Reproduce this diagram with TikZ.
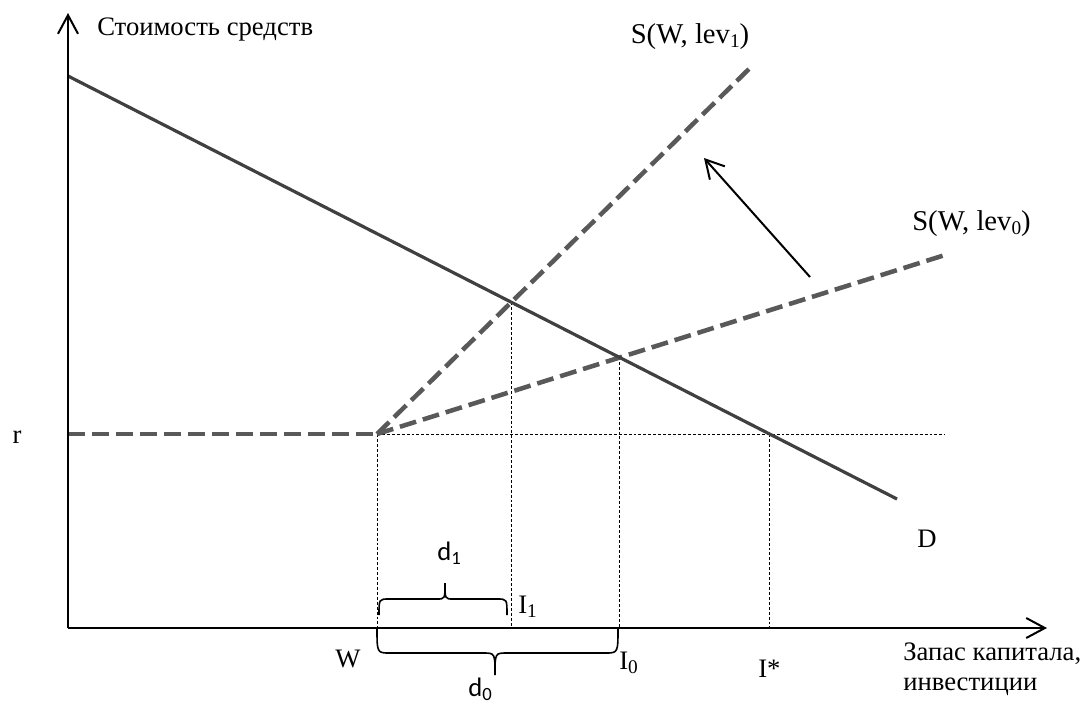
\documentclass[tikz,border=0pt]{standalone}
\usepackage{fontspec}
\setmainfont{Liberation Serif}
\newfontfamily\calibrifont{Carlito}
\usetikzlibrary{arrows.meta}
\definecolor{dgray}{RGB}{64,64,64}
\definecolor{sgray}{RGB}{89,89,89}
\newcommand\lowsub[1]{\raisebox{-0.16em}{\fontsize{14.5}{14.5}\selectfont #1}}
\begin{document}
\begin{tikzpicture}[x=0.75pt,y=-0.75pt,
  font=\fontsize{20}{24}\selectfont,
  axisline/.style={line width=1.8pt,-{Straight Barb[length=14pt,width=15pt,line width=1.5pt]}},
  demand/.style={line width=2.4pt,draw=dgray},
  supply/.style={line width=3.4pt,draw=sgray,dash pattern=on 12.75pt off 5.25pt},
  guide/.style={line width=0.75pt,dash pattern=on 2.2pt off 1.5pt},
  shiftarrow/.style={line width=1.5pt,-{Straight Barb[length=13.5pt,width=15pt,line width=1.5pt]}},
  bracestyle/.style={line width=1.2pt},
  lbl/.style={inner sep=0pt},
  slbl/.style={inner sep=0pt,font=\fontsize{21.5}{24}\selectfont},
  sanslbl/.style={inner sep=0pt,font=\calibrifont\fontsize{20}{24}\selectfont}]
\useasboundingbox (0,0) rectangle (1085,704);
% key points
\coordinate (O) at (68,628);
\coordinate (Ytop) at (68,13);
\coordinate (Xend) at (1047,628);
\coordinate (Dtop) at (68,76);
\coordinate (Dbot) at (897,499);
\coordinate (R) at (68,434);
\coordinate (W) at (377,434);
\coordinate (S1end) at (750,68);
\coordinate (S0end) at (945,255);
\coordinate (Rend) at (945,434);
\coordinate (E1) at (intersection of Dtop--Dbot and W--S1end);
\coordinate (E0) at (intersection of Dtop--Dbot and W--S0end);
\coordinate (Es) at (intersection of Dtop--Dbot and W--Rend);
\coordinate (Afrom) at (810,277);
\coordinate (Ato) at (704,158);
% guide lines
\draw[guide] (W) -- (Rend);
\draw[guide] (W) -- (W |- O);
\draw[guide] (E1) -- (E1 |- O);
\draw[guide] (E0) -- (E0 |- O);
\draw[guide] (Es) -- (Es |- O);
% supply curves
\draw[supply] (R) -- (W);
\draw[supply] (W) -- (S1end);
\draw[supply] (W) -- (S0end);
% demand
\draw[demand] (Dtop) -- (Dbot);
% axes
\draw[axisline] (O) -- (Ytop);
\draw[axisline] (O) -- (Xend);
% shift arrow
\draw[shiftarrow] (Afrom) -- (Ato);
% braces
\draw[bracestyle] (379,615) .. controls (379,599) .. (389,599) -- (437,599)
  .. controls (445,599) .. (445,583) .. controls (445,599) .. (453,599)
  -- (497,599) .. controls (507,599) .. (507,615);
\draw[bracestyle] (377,628) .. controls (377,653) .. (390,653) -- (483,653)
  .. controls (495,653) .. (495,675) .. controls (495,653) .. (507,653)
  -- (605,653) .. controls (618,653) .. (618,628);
% labels
\node[lbl,anchor=base west] (ylab) at (97,35) {Стоимость средств};
\node[lbl,anchor=base west] (xlab1) at (903,660) {Запас капитала,};
\node[lbl,anchor=base west] (xlab2) at (903,690) {инвестиции};
\node[slbl,anchor=base] (s1lab) at (690,43) {S(W, lev\lowsub{1})};
\node[slbl,anchor=base west] (s0lab) at (912,230) {S(W, lev\lowsub{0})};
\node[lbl,anchor=base] (rlab) at (17,443) {r};
\node[lbl,anchor=base west] (dlab) at (917,547) {D};
\node[lbl,anchor=base west] (wlab) at (335,667) {W};
\node[lbl,anchor=base west] (i1lab) at (518,613) {I\lowsub{1}};
\node[lbl,anchor=base west] (i0lab) at (619,669) {I\lowsub{0}};
\node[lbl,anchor=base west] (islab) at (758,677) {I*};
\node[sanslbl,anchor=base west] (d1lab) at (437,560) {d\textsubscript{1}};
\node[sanslbl,anchor=base west] (d0lab) at (468,696) {d\textsubscript{0}};
\end{tikzpicture}
\end{document}
